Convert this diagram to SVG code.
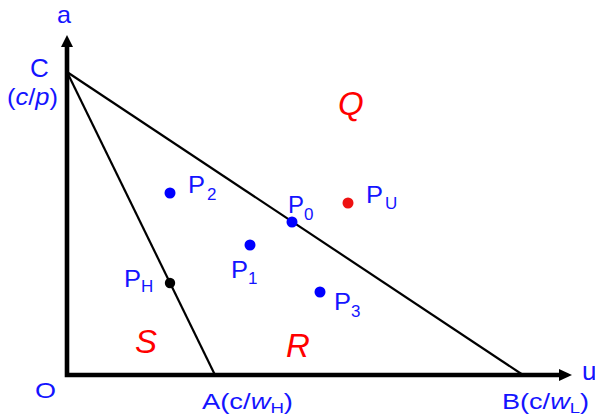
<svg xmlns="http://www.w3.org/2000/svg" width="595" height="416" viewBox="0 0 595 416">
<style>
text{font-family:"Liberation Sans",Arial,sans-serif}
.b{fill:#1414ff}
.r{fill:#ff0000}
.lbl{font-size:24px}
.sub{font-size:17px}
.big{font-size:33px;font-style:italic}
.line{stroke:#000;stroke-width:2.2;fill:none}
.dot{fill:#0000ff}
</style>
<rect width="595" height="416" fill="#fff"/>
<g id="axes">
<path d="M67,46 V375 H560" stroke="#000" stroke-width="4.6" fill="none" stroke-linejoin="miter"/>
<polygon points="67,35 61,47 73,47" fill="#000"/>
<polygon points="572,375 559,369 559,381" fill="#000"/>
</g>
<g id="connectors">
<line class="line" x1="67" y1="72" x2="523" y2="375"/>
<line class="line" x1="67" y1="72" x2="215" y2="375"/>
</g>
<g id="axis-labels">
<text class="b" x="57" y="22.5" font-size="24" textLength="14" lengthAdjust="spacingAndGlyphs">a</text>
<text class="b" x="582" y="380" font-size="26">u</text>
<text class="b" x="30" y="77" font-size="26">C</text>
<text class="b" x="7" y="105" font-size="24" textLength="51" lengthAdjust="spacingAndGlyphs">(<tspan font-style="italic">c</tspan>/<tspan font-style="italic">p</tspan>)</text>
<text class="b" x="35" y="398" font-size="22" textLength="21" lengthAdjust="spacingAndGlyphs">O</text>
<text class="b" x="202" y="409" font-size="22" textLength="91" lengthAdjust="spacingAndGlyphs">A(c/<tspan font-style="italic">w</tspan><tspan font-size="15" dy="4">H</tspan><tspan dy="-4">)</tspan></text>
<text class="b" x="502" y="409" font-size="22" textLength="87" lengthAdjust="spacingAndGlyphs">B(c/<tspan font-style="italic">w</tspan><tspan font-size="15" dy="4">L</tspan><tspan dy="-4">)</tspan></text>
</g>
<g id="regions">
<text class="r big" x="338" y="115">Q</text>
<text class="r big" x="135" y="353">S</text>
<text class="r big" x="286" y="357">R</text>
</g>
<g id="P2"><circle class="dot" cx="170" cy="193" r="5.5"/><text class="b lbl" x="188" y="193" textLength="17" lengthAdjust="spacingAndGlyphs">P</text><text class="b sub" x="207" y="200">2</text></g>
<g id="P0"><circle class="dot" cx="292" cy="222" r="5.5"/><text class="b lbl" x="288" y="213" textLength="16" lengthAdjust="spacingAndGlyphs">P</text><text class="b sub" x="304" y="220">0</text></g>
<g id="PU"><circle cx="348" cy="203" r="5.5" fill="#ee1111"/><text class="b lbl" x="366" y="203" textLength="17" lengthAdjust="spacingAndGlyphs">P</text><text class="b sub" x="385" y="209">U</text></g>
<g id="P1"><circle class="dot" cx="250" cy="245" r="5.5"/><text class="b lbl" x="231" y="278" textLength="17" lengthAdjust="spacingAndGlyphs">P</text><text class="b sub" x="248" y="284">1</text></g>
<g id="PH"><circle cx="170" cy="283" r="5.2" fill="#000"/><text class="b lbl" x="124" y="287" textLength="17" lengthAdjust="spacingAndGlyphs">P</text><text class="b sub" x="141" y="292">H</text></g>
<g id="P3"><circle class="dot" cx="320" cy="292" r="5.5"/><text class="b lbl" x="334" y="310" textLength="17" lengthAdjust="spacingAndGlyphs">P</text><text class="b sub" x="351" y="317">3</text></g>
</svg>
